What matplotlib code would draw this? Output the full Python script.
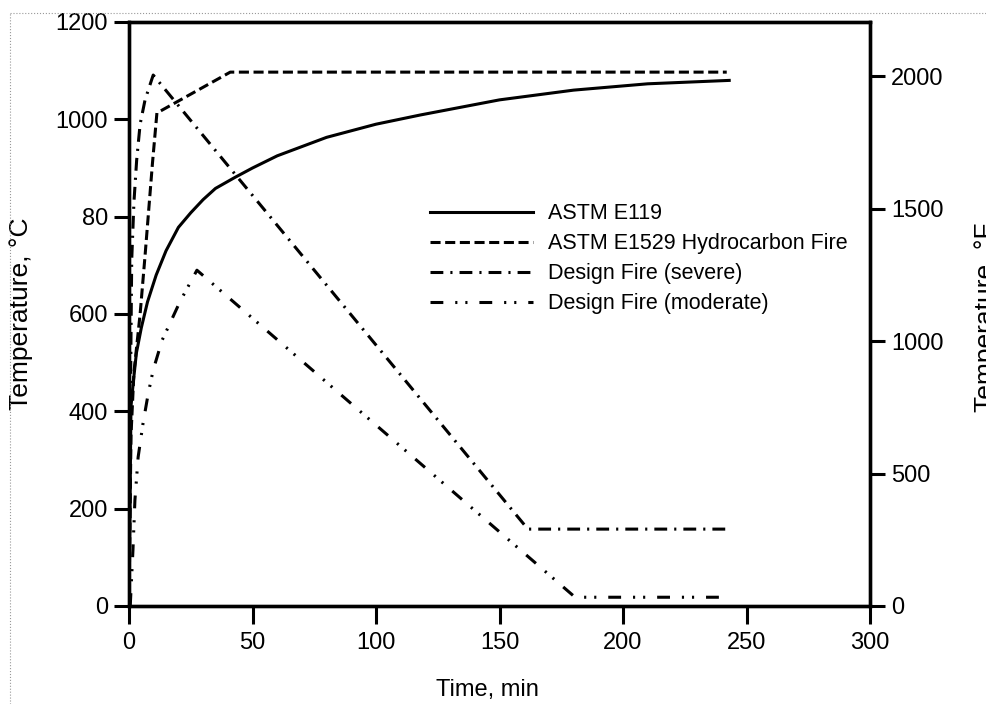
import matplotlib
matplotlib.use("Agg")
import matplotlib.pyplot as plt
from matplotlib.lines import Line2D

plt.rcParams['font.family'] = ['Liberation Sans', 'DejaVu Sans']

# ASTM E119 standard curve
e119_t = [0, 0.8, 1.7, 3, 5, 7.5, 11, 15, 20, 25, 30, 35, 43, 50, 60, 80, 100, 118, 150, 180, 210, 243]
e119_T = [0, 410, 458, 520, 572, 625, 680, 730, 778, 808, 835, 858, 881, 900, 925, 963, 990, 1009, 1040, 1060, 1073, 1080]

# ASTM E1529 hydrocarbon fire
e1529_t = [0, 0.8, 2, 4.5, 6.5, 9.5, 11.3, 41, 242]
e1529_T = [0, 350, 480, 600, 720, 910, 1013, 1097, 1097]

# design fire (severe)
sev_t = [0, 0.4, 0.8, 1.1, 2, 3.1, 4.5, 6.5, 9.8, 161.5, 244]
sev_T = [0, 300, 550, 711, 830, 916, 990, 1040, 1091, 158, 158]

# design fire (moderate)
mod_t = [0.5, 1.6, 2.4, 3.7, 5.7, 7.8, 9.8, 13.4, 16.6, 20.6, 27.5, 180.6, 242.5]
mod_T = [0, 115, 218, 306, 376, 437, 485, 546, 581, 625, 690, 18, 18]

labels = ["ASTM E119", "ASTM E1529 Hydrocarbon Fire",
          "Design Fire (severe)", "Design Fire (moderate)"]

yticks_c = [0, 200, 400, 600, 800, 1000, 1200]
yticklabels_c = ["0", "200", "400", "600", "80", "1000", "1200"]
yticks_f = [0, 500, 1000, 1500, 2000]
xticks = [0, 50, 100, 150, 200, 250, 300]

fig = plt.figure(figsize=(9.87, 7.04), dpi=100)
ax = fig.add_axes([129/987, 1 - 606/704, (870-129)/987, (606-22)/704])

lw = 2.2
styles = ['-', (0, (3.3, 1.5)), (0, (4.2, 2.3, 0.7, 2.3)), (0, (4.2, 3.9, 0.7, 2.6, 0.7, 3.9))]
ax.plot(e119_t, e119_T, color='black', lw=lw, ls=styles[0], label=labels[0])
ax.plot(e1529_t, e1529_T, color='black', lw=lw, ls=styles[1], label=labels[1])
ax.plot(sev_t, sev_T, color='black', lw=lw, ls=styles[2], label=labels[2])
ax.plot(mod_t, mod_T, color='black', lw=lw, ls=styles[3], label=labels[3])

ax.set_xlim(0, 300)
ax.set_ylim(0, 1200)
ax.set_xticks(xticks)
ax.set_yticks(yticks_c)
ax.set_yticklabels(yticklabels_c)
ax.tick_params(axis='both', direction='out', width=2.2, labelsize=17)
ax.tick_params(axis='x', length=13, pad=6)
ax.tick_params(axis='y', length=11, pad=4)
for s in ax.spines.values():
    s.set_linewidth(2.4)

ax.set_xlabel("Time, min", fontsize=17)
ax.xaxis.set_label_coords(0.484, -0.125)
ax.set_ylabel("Temperature, °C", fontsize=19)
ax.yaxis.set_label_coords(-0.13, 0.5)

ax2 = ax.twinx()
ax2.set_ylim(0, 2204)
ax2.set_yticks(yticks_f)
ax2.tick_params(axis='y', direction='out', length=11, width=2.2, labelsize=17, pad=4)
for s in ax2.spines.values():
    s.set_linewidth(2.4)

fig.text(974/987, 1 - 317/704, "Temperature, °F", rotation=90, fontsize=19,
         ha='left', va='center')

leg = ax.legend(loc='upper left', bbox_to_anchor=(0.406, 0.69), frameon=False,
                fontsize=15.5, handlelength=4.8, handletextpad=0.68,
                labelspacing=0.42, borderpad=0, borderaxespad=0)

# dotted scan border
fig.add_artist(Line2D([10/987, 10/987], [0, 1 - 13/704], transform=fig.transFigure,
                      color='#999999', lw=0.8, ls=':'))
fig.add_artist(Line2D([10/987, 1], [1 - 13/704, 1 - 13/704], transform=fig.transFigure,
                      color='#999999', lw=0.8, ls=':'))

fig.savefig("out.png", dpi=100)
